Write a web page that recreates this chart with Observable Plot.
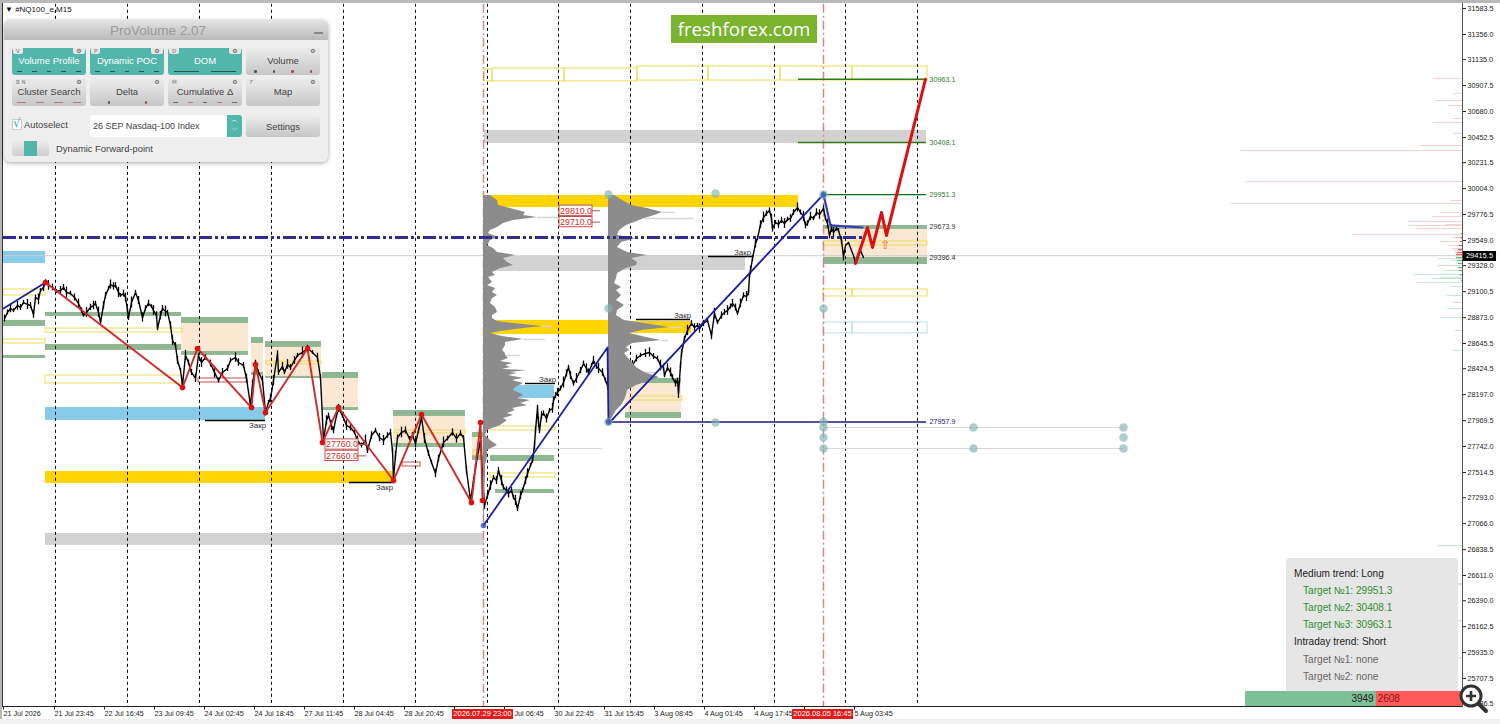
<!DOCTYPE html>
<html><head><meta charset="utf-8">
<script src="https://cdn.jsdelivr.net/npm/d3@7"></script>
<script src="https://cdn.jsdelivr.net/npm/@observablehq/plot@0.6"></script>
<style>
html,body{margin:0;padding:0;background:#fff;overflow:hidden}
#wrap{position:relative;width:1500px;height:724px;font-family:"Liberation Sans",Arial,sans-serif}
#wrap svg{display:block;max-width:none}
.o{position:absolute;box-sizing:border-box;white-space:nowrap}
</style></head><body><div id="wrap"></div>
<script>
// ---------- axes ----------
const priceTicks=[31583.5,31356,31135,30907.5,30680,30452.5,30231.5,30004,29776.5,29549,29328,29100.5,28873,28645.5,28424.5,28197,27969.5,27742,27514.5,27293,27066,26838.5,26611,26390,26162.5,25935,25707.5,25486.5];
const tickSlots=[3,54,104,154,204,254,304,354,404,454,504,554,604,654,704,754,804,854];
const labelSlots=[3,54,104,154,204,254,304,354,404,514,554,604,654,704,754,854];
const timeLabels=["21 Jul 2026","21 Jul 23:45","22 Jul 16:45","23 Jul 09:45","24 Jul 02:45","24 Jul 18:45","27 Jul 11:45","28 Jul 04:45","28 Jul 20:45","Jul 06:45","30 Jul 22:45","31 Jul 15:45","3 Aug 08:45","4 Aug 01:45","4 Aug 17:45","5 Aug 03:45"];
const sessionSlots=[55,127,199,271,343,415,487,558,630,702,774,845,917];
const signalSlots=[483,823];
// ---------- price series: time slot / close / half range ----------
const closeSlot=[4,7,10,13,17,20,23,27,30,33,35,38,40,43,45,48,52,56,60,63,66,70,74,78,81,83,86,90,93,95,98,100,103,105,108,110,113,115,118,120,123,125,127,128,131,135,138,142,145,148,151,153,156,157,160,162,165,167,170,172,175,177,180,182,185,188,191,195,198,201,205,210,214,218,222,227,230,235,238,243,246,250,252,255,258,262,265,268,270,273,277,278,282,284,287,290,294,297,302,307,312,317,320,323,326,328,331,333,336,338,342,346,350,354,357,361,365,367,371,375,379,383,387,390,392,393,395,397,401,405,409,412,415,418,421,424,428,431,435,438,443,447,452,456,460,463,466,470,473,475,478,480,484,487,490,493,496,498,501,503,506,508,511,513,515,517,520,522,525,527,530,532,534,535,537,538,539,541,543,546,549,552,553,555,557,560,563,566,568,570,573,576,580,583,586,588,591,593,596,598,602,605,607,625,628,632,636,640,645,649,653,657,660,663,664,667,670,672,675,677,678,680,681,684,687,691,694,697,699,703,707,711,714,717,721,724,727,730,732,735,737,740,743,746,748,749,750,752,755,757,760,763,766,769,771,772,775,778,781,784,787,790,793,797,800,803,805,807,810,813,816,819,823,825,827,829,831,833,836,838,841,843,845,848,851,853,855,858,860,863];
const closePrice=[28865,28918,28953,28935,28979,28962,29005,28988,28979,28900,29049,29032,29111,29137,29181,29155,29137,29102,29111,29137,29093,29084,29049,28997,28935,28891,28918,28962,28979,28997,28918,28830,28979,29067,29128,29163,29146,29155,29093,29067,29084,29049,28935,28874,29005,29093,29023,28874,28953,28997,28970,28935,28891,28777,28891,28953,28927,28918,28804,28672,28628,28497,28409,28278,28541,28479,28392,28339,28541,28479,28523,28470,28392,28321,28392,28427,28497,28523,28479,28453,28339,28102,28278,28470,28392,28321,28041,28128,28163,28321,28558,28392,28444,28392,28462,28435,28497,28541,28567,28602,28567,28523,28348,27795,27971,28014,27927,27883,28014,28076,28014,27927,27909,27865,27795,27751,27795,27707,27839,27883,27821,27795,27839,27865,27707,27462,27664,27821,27865,27883,27812,27839,27769,27883,27997,27812,27681,27602,27506,27637,27778,27812,27865,27812,27857,27821,27532,27269,27444,27558,27707,27795,27225,27313,27400,27471,27444,27532,27444,27383,27357,27330,27357,27295,27269,27199,27313,27357,27444,27506,27576,27620,27751,27883,28084,27953,27883,28014,28032,27988,28058,28076,28146,28190,28216,28251,28304,28383,28435,28365,28295,28339,28409,28470,28427,28392,28453,28497,28444,28427,28392,28321,28278,28427,28479,28453,28514,28541,28558,28567,28532,28514,28453,28435,28365,28435,28392,28348,28295,28321,28207,28453,28558,28690,28760,28821,28786,28804,28777,28821,28848,28716,28909,28830,28891,28918,28935,28970,28997,28962,28909,28997,29067,29058,29093,29242,29286,29391,29523,29567,29690,29751,29786,29812,29742,29654,29707,29690,29725,29698,29733,29742,29795,29838,29795,29760,29681,29698,29760,29742,29795,29777,29830,29742,29698,29593,29654,29619,29654,29637,29549,29409,29505,29532,29461,29418,29347,29418,29461,29400];
const closeRange=[30,22,38,18,41,27,19,44,25,33,21,47,16,36,24,42,29,17,35,26,48,20,31,39,23,15,43,28,37,19,46,22,34,27,18,40,32,24,45,17,30,38,21,26,49,19,35,41,23,28,16,44,33,20,37,25,47,18,31,42,26,34,19,39,45,22,28,36,17,43,24,30,48,21,35,27,19,41,33,25,38,16,46,29,22,40,31,18,37,44,23,27,35,20,42,26,34,19,47,28,16,38,24,32,41,21,45,29,18,36,25,43,30,17,39,22,48,26,33,19,37,44,24,28,20,41,35,23,46,31,18,27,39,22,34,43,25,19,37,29,47,21,32,40,24,17,36,45,26,30,20,38,33,23,42,18,35,27,46,22,31,39,25,19,44,28,36,21,33,41,17,24,37,30,20,45,27,34,23,39,18,42,29,26,35,21,48,32,19,37,24,43,28,22,40,31,17,36,25,46,33,20,38,27,23,44,30,19,35,41,26,22,47,29,18,34,39,24,31,21,43,27,36,20,45,25,33,18,40,28,23,37,46,19,32,26,42,22,35,30,17,38,24,44,29,21,36,27,41,19,33,47,25,23,39,31,18,35,28,43,20,34,26,40,22,45,30,24,37,19,32,42,27,21,38,29,35,46,23,18,33,41];
// ---------- zigzags ----------
const redZigSlot=[45,182,197,251,255,265,307,322,338,393,421,471,480,482];
const redZigPrice=[29181,28260,28602,28084,28462,28041,28602,27778,28084,27444,28023,27251,27953,27269];
const blueZigA=[[3,28953],[45,29181]];
const blueZigB=[[483,27050],[607,28611],[608,27944],[823,29953]];
const bluePocLine=[[823,29953],[830,29681],[862,29663]];
const forecastSlot=[855,867,872,881,886,925];
const forecastPrice=[29347,29663,29488,29795,29593,30963];
// ---------- zones: slot start, slot end, high, low ----------
const greenZones=[[3,45,28848,28795],[3,45,28541,28514],[45,181,28918,28883],[45,181,28637,28585],[181,248,28874,28821],[181,248,28576,28541],[251,263,28698,28646],[251,263,28392,28365],[265,321,28663,28611],[265,321,28357,28339],[322,358,28392,28339],[322,358,28084,28058],[393,465,28058,28006],[393,465,27769,27734],[472,483,27865,27821],[472,483,27664,27620],[490,554,27664,27611],[495,554,27365,27330],[620,681,28339,28295],[625,681,28041,27988],[823,927,29681,29646],[823,927,29400,29339]];
const creamZones=[[181,248,28821,28576],[251,263,28646,28392],[265,321,28611,28357],[322,358,28339,28084],[393,465,28006,27769],[472,483,27821,27664],[625,681,28295,28041],[823,927,29646,29400]];
const goldZones=[[45,393,27523,27418],[484,798,29944,29838],[484,608,28848,28725],[608,691,28839,28734]];
const skyZones=[[3,45,29453,29347],[45,265,28084,27971],[512,554,28278,28163]];
const greyZones=[[45,484,26980,26875],[484,926,30514,30400],[484,608,29409,29277],[608,745,29418,29286]];
const yellowBoxes=[[3,45,29119,29067],[3,45,28681,28646],[45,182,28777,28742],[45,182,28365,28295],[266,321,28488,28462],[395,465,27883,27857],[473,483,27707,27664],[490,555,27918,27883],[490,555,27506,27471],[630,682,28181,28146],[823,927,29540,29505],[823,852,29119,29058],[852,927,29119,29058],[484,492,31049,30944],[492,564,31058,30944],[564,637,31058,30944],[637,708,31075,30952],[708,780,31075,30952],[780,852,31075,30952],[852,927,31075,30952]];
const redBoxes=[[198,247,28339,28304],[402,420,27602,27567]];
const paleBlueBoxes=[[823,852,28830,28734],[852,927,28830,28734]];
// ---------- volume profiles: price level / profile right end ----------
const profileALevel=[29944,29900,29856,29830,29795,29768,29751,29725,29698,29663,29637,29611,29575,29549,29505,29479,29444,29418,29391,29356,29330,29304,29269,29242,29225,29181,29155,29128,29093,29067,29040,28997,28962,28918,28891,28865,28839,28821,28795,28777,28751,28734,28707,28681,28655,28628,28584,28558,28541,28514,28488,28470,28452,28435,28418,28409,28392,28383,28365,28339,28321,28295,28260,28234,28208,28190,28164,28146,28120,28102,28076,28058,28032,28014,27988,27971,27927,27883,27839,27795,27751,27707,27646,27576,27471,27357,27181,27050];
const profileAEnd=[490,497,498,510,525,523,537,513,503,497,490,488,498,490,487,493,497,515,503,507,513,500,492,495,488,492,487,495,492,497,492,490,495,497,492,492,497,513,542,523,500,490,502,523,505,505,502,505,505,508,500,513,505,510,502,527,510,517,508,523,512,523,515,513,520,523,517,530,520,527,512,515,507,513,503,507,500,487,485,490,497,487,487,485,485,484,484,483];
const profileBLevel=[29944,29900,29856,29830,29795,29768,29742,29707,29681,29637,29593,29567,29532,29488,29444,29418,29391,29356,29330,29304,29260,29216,29172,29137,29111,29067,29023,28979,28935,28891,28848,28821,28786,28760,28734,28698,28672,28646,28611,28584,28558,28523,28479,28435,28392,28348,28321,28278,28234,28190,28146,28102,28058,27997,27944];
const profileBEnd=[614,622,631,647,662,654,644,634,626,619,617,636,621,617,627,647,631,637,636,626,617,616,614,621,616,621,616,624,617,616,624,644,669,641,629,646,661,632,626,629,624,627,632,636,644,659,651,636,627,626,624,621,616,612,609];
const profileTails=[[537,562,29751],[542,552,28795],[523,545,28681],[505,520,28541],[662,675,29795],[644,694,29742],[669,682,28786],[661,668,28672],[636,655,28392]];
// ---------- level lines ----------
const targetLevels=[30963.1,30408.1];
const target1=29951.3;
const bottomLevel=27957.9;
const pocLevel=29575;
const lastPrice=29415.5;
const levelLabelValues=[30963.1,30408.1,29951.3,29673.9,29396.4,27957.9];
const levelLabelTone=["a","a","a","b","b","c"];
// ---------- anchors ----------
const anchorSlot=[608,715,823,608,823,608,715,823,823,823,823,973,973,1123,1123,1123];
const anchorPrice=[29951,29960,29951,28953,28953,27958,27953,27958,27909,27821,27725,27909,27725,27909,27821,27725];
const faintLines=[[823,1123,27909],[823,1123,27725],[490,602,27725]];
// ---------- closing marks ----------
const closeLines=[[205,265,27971],[349,393,27427],[525,555,28295],[708,752,29409],[636,690,28856]];
const closeNotes=[[257,27927,"Закр"],[384,27383,"Закр"],[547,28330,"Закр"],[742,29444,"Закр"],[682,28891,"Закр"]];
// ---------- alert tags ----------
const tagValues=[27760,27660,29810,29710];
const tagSlots=[325,325,559,559];
// ---------- depth of market: level / reach ----------
const askLevel=[30970,30840,30777,30733,30619,30584,30488,30382,30338,30066,29900,29873,29795,29760,29716,29689,29681,29654,29602,29575,29540,29505,29479,29461,29444,29426];
const askReach=[1433,1453,1435,1448,1452,1433,1452,1420,1240,1245,1450,1230,1440,1432,1408,1445,1408,1417,1352,1452,1440,1448,1452,1454,1456,1458];
const bidLevel=[29391,29374,29330,29286,29251,29225,29216,29181,29146,29067,29005,28953,28874,28760,28584,26874,26540,26530,26215,25890];
const bidReach=[1437,1450,1437,1445,1413,1440,1432,1417,1450,1447,1452,1447,1440,1455,1452,1437,1453,1450,1445,1452];
const askCore=[[29610,1461],[29575,1460],[29540,1460],[29505,1459],[29470,1458],[29444,1457],[29426,1456]];
const bidCore=[[29400,1456],[29374,1457],[29347,1458],[29312,1458],[29286,1459],[29250,1460],[29200,1461]];

// ---------- panels ----------
const trendRows=[["Medium trend: Long","h"],["Target №1: 29951.3","g"],["Target №2: 30408.1","g"],["Target №3: 30963.1","g"],["Intraday trend: Short","h"],["Target №1: none","n"],["Target №2: none","n"]];
const buyVolume=3949, sellVolume=2608;
const buttonRows=[
 [["Volume Profile","V",1],["Dynamic POC","P",1],["DOM","D",1],["Volume","",0]],
 [["Cluster Search","B N",0],["Delta","",0],["Cumulative Δ","M",0],["Map","F",0]]];

const pairs=(a,b)=>a.map((v,i)=>[v,b[i]]);
const zoneRect=(rows,opts)=>Plot.rect(rows,{x1:d=>d[0],x2:d=>d[1],y1:d=>d[3],y2:d=>d[2],...opts});
const font='"Liberation Sans",Arial,sans-serif';
const profileMark=(lv,en,base)=>Plot.areaX(lv.map((l,i)=>({l,e:en[i]})),{y:"l",x1:()=>base,x2:"e",fill:"#8c8c8c",curve:"linear"});

const chart=Plot.plot({
  width:1500,height:724,marginTop:0,marginLeft:0,marginRight:38,marginBottom:17.5,
  style:{background:"#fff",fontFamily:font,overflow:"visible"},
  x:{type:"linear",domain:[0,1500],range:[0,1500]},
  y:{type:"linear",domain:[31583.5,25427.3],range:[8,710]},
  marks:[
    // zones
    zoneRect(creamZones,{fill:"#fbe8d2"}),
    zoneRect(greyZones,{fill:"#d2d2d2"}),
    zoneRect(goldZones,{fill:"#ffd400"}),
    zoneRect(skyZones,{fill:"#86cbe8"}),
    zoneRect(greenZones,{fill:"#8fb892"}),
    zoneRect(yellowBoxes,{fill:"none",stroke:"#ecdc55",strokeWidth:1}),
    zoneRect(paleBlueBoxes,{fill:"none",stroke:"#bcdde8",strokeWidth:1}),
    zoneRect(redBoxes,{fill:"none",stroke:"#c0504d",strokeWidth:1}),
    // session and signal rules
    Plot.ruleX(sessionSlots,{y1:31620,y2:25458,stroke:"#000",strokeWidth:1,strokeDasharray:"3 3"}),
    Plot.ruleX(signalSlots,{y1:31620,y2:25458,stroke:"#cc8a8a",strokeWidth:1.5,strokeDasharray:"9 3 2 3"}),
    // faint and last price
    Plot.ruleY([lastPrice],{x1:3,x2:1462,stroke:"#cfcfcf",strokeWidth:1}),
    Plot.ruleY(faintLines,{x1:d=>d[0],x2:d=>d[1],y:d=>d[2],stroke:"#d8d8d8",strokeWidth:1}),
    // depth
    Plot.ruleY(pairs(askLevel,askReach),{y:d=>d[0],x1:d=>d[1],x2:1462,stroke:"#f5d2d2",strokeWidth:1}),
    Plot.ruleY(pairs(bidLevel,bidReach),{y:d=>d[0],x1:d=>d[1],x2:1462,stroke:"#c8e6d4",strokeWidth:1}),
    Plot.ruleY(askCore,{y:d=>d[0],x1:d=>d[1],x2:1462,stroke:"#e65a5a",strokeWidth:1.2}),
    Plot.ruleY(bidCore,{y:d=>d[0],x1:d=>d[1],x2:1462,stroke:"#5fb785",strokeWidth:1.2}),
    // price
    Plot.line(pairs(closeSlot,closePrice),{x:d=>d[0],y:d=>d[1],stroke:"#000",strokeWidth:1.4,curve:"linear"}),
    Plot.ruleX(closeSlot.map((s,i)=>[s,closePrice[i],closeRange[i]]),{x:d=>d[0],y1:d=>d[1]-d[2],y2:d=>d[1]+d[2],stroke:"#000",strokeWidth:1.3}),
    // profiles
    Plot.ruleY(profileTails,{x1:d=>d[0],x2:d=>d[1],y:d=>d[2],stroke:"#d6d6d6",strokeWidth:1.5}),
    profileMark(profileALevel,profileAEnd,483),
    profileMark(profileBLevel,profileBEnd,608),
    // levels
    Plot.ruleY([pocLevel],{x1:3,x2:862,stroke:"#2d2d8f",strokeWidth:3,strokeDasharray:"13 3 3 3 3 3"}),
    Plot.ruleY(targetLevels,{x1:798,x2:926,stroke:"#2f7a12",strokeWidth:1.4}),
    Plot.ruleY([target1],{x1:823,x2:926,stroke:"#0e6e1a",strokeWidth:1.4}),
    Plot.ruleY([bottomLevel],{x1:608,x2:926,stroke:"#1a1a7a",strokeWidth:1.6}),
    // closing marks
    Plot.ruleY(closeLines,{x1:d=>d[0],x2:d=>d[1],y:d=>d[2],stroke:"#000",strokeWidth:1.4}),
    Plot.text(closeNotes,{x:d=>d[0],y:d=>d[1],text:d=>d[2],fontSize:8,fill:"#333"}),
    // zigzags
    Plot.line(blueZigA,{x:d=>d[0],y:d=>d[1],stroke:"#1c1ca8",strokeWidth:1.8}),
    Plot.line(blueZigB,{x:d=>d[0],y:d=>d[1],stroke:"#1c1ca8",strokeWidth:1.8}),
    Plot.line(bluePocLine,{x:d=>d[0],y:d=>d[1],stroke:"#3a3ab8",strokeWidth:2.2}),
    Plot.line(pairs(redZigSlot,redZigPrice),{x:d=>d[0],y:d=>d[1],stroke:"#cf2a2a",strokeWidth:1.9}),
    Plot.dot(pairs(redZigSlot,redZigPrice),{x:d=>d[0],y:d=>d[1],r:2.8,fill:"#e01010"}),
    Plot.line(pairs(forecastSlot,forecastPrice),{x:d=>d[0],y:d=>d[1],stroke:"#dc0f12",strokeWidth:3}),
    Plot.text([[885,29505]],{x:d=>d[0],y:d=>d[1],text:()=>"⇧",fontSize:12,fontFamily:"DejaVu Sans",fill:"#e8603a"}),
    // anchors
    Plot.dot(pairs(anchorSlot,anchorPrice),{x:d=>d[0],y:d=>d[1],r:4.3,fill:"#7fb6b4",fillOpacity:.65}),
    Plot.dot([[483,27050],[608,27958],[823,29951]],{x:d=>d[0],y:d=>d[1],r:2.8,fill:"#3a5fc0",fillOpacity:.85}),
    // tags
    Plot.rect(pairs(tagSlots,tagValues),{x1:d=>d[0],x2:d=>d[0]+33,y1:d=>d[1]-45,y2:d=>d[1]+45,fill:"#fff",stroke:"#c0504d"}),
    Plot.ruleY(pairs(tagSlots,tagValues),{x1:d=>d[0]+33,x2:d=>d[0]+41,y:d=>d[1],stroke:"#c0504d"}),
    Plot.text(pairs(tagSlots,tagValues),{x:d=>d[0]+16.5,y:d=>d[1],text:d=>d[1].toFixed(1),fontSize:8.8,fill:"#d0302a"}),
    // level labels
    Plot.text(levelLabelValues,{x:929,y:d=>d,text:d=>d.toFixed(1),textAnchor:"start",fontSize:7.2,fill:(d,i)=>({a:"#2f7a2f",b:"#333",c:"#24247a"})[levelLabelTone[i]]}),
    // axes
    Plot.axisY({anchor:"right",ticks:priceTicks,tickFormat:d=>d.toFixed(1),tickSize:3,tickPadding:2,fontSize:7.2,label:null,color:"#222"}),
    Plot.axisX({anchor:"bottom",ticks:tickSlots,tickFormat:()=>"",tickSize:3,label:null,color:"#222"}),
    Plot.text(pairs(labelSlots,timeLabels),{x:d=>d[0],text:d=>d[1],frameAnchor:"bottom",dy:7,lineAnchor:"middle",textAnchor:"start",fontSize:7.2,fill:"#222"})
  ]
});
const wrap=document.getElementById("wrap");
wrap.appendChild(chart);

function box(css,text,parent){const d=document.createElement("div");d.className="o";d.style.cssText=css;if(text!=null)d.textContent=text;(parent||wrap).appendChild(d);return d;}
// chart frame
box("left:0;top:0;width:1500px;height:3px;background:#b8b8b8");
box("left:0;top:0;width:2px;height:724px;background:#b8b8b8");
box("left:2px;top:3px;width:1px;height:704px;background:#333");
box("left:3px;top:706px;width:1459px;height:1px;background:#222");
box("left:1462px;top:3px;width:1px;height:704px;background:#555");
box("left:0;top:719px;width:1500px;height:5px;background:#f0f0f0");
box("left:5px;top:5px;font:8px 'Liberation Sans';color:#111","▼ #NQ100_e,M15");
// time tags
[[452,"2026.07.29 23:00"],[792,"2026.08.05 16:45"]].forEach(([x,t])=>{
  box(`left:${x}px;top:709px;width:61px;height:9.5px;background:#e51b1b;color:#fff;font:7.5px/9.5px 'Liberation Sans';text-align:center`,t);
});
// last price tag
box("left:1463px;top:251px;width:33px;height:10px;background:#000;color:#fff;font:7.5px/10px 'Liberation Sans';text-align:center",lastPrice.toFixed(1));
// logo
box("left:671px;top:15px;width:146px;height:28px;background:#7ab32e;color:#fff;font:18.7px/28px 'Open Sans';text-align:center","freshforex.com");
// ProVolume panel
const p=box("left:4px;top:20px;width:324px;height:142px;background:#eeeeee;border-radius:6px;box-shadow:0 1px 4px rgba(0,0,0,.35)");
box("left:0;top:0;width:324px;height:20px;background:linear-gradient(#e4e4e4,#b9b9b9);border-radius:6px 6px 0 0;color:#9a9a9a;font:13.5px/21px 'Liberation Sans';text-align:center;padding-right:16px","ProVolume 2.07",p);
box("left:310px;top:12px;width:9px;height:1.5px;background:#888",null,p);
const gridX=[8,86,164,242];
const rowY=[28,59];
const marks=[["-----",  "-----",  "==",   "dddd"],["rrrr","ee","mmmmm",""]];
buttonRows.forEach((row,r)=>row.forEach(([label,key,on],c)=>{
  const b=box(`left:${gridX[c]}px;top:${rowY[r]}px;width:74px;height:27px;border-radius:3px;background:${on?"#52b6ab":"linear-gradient(#ececec,#c6c6c6)"};color:${on?"#fff":"#444"};font:9.5px/26px 'Liberation Sans';text-align:center`,label,p);
  if(key)box(`left:1px;top:0;height:6px;padding:0 3px;background:#e6e6e6;border-radius:0 0 2px 2px;color:#777;font:5.5px/6px 'DejaVu Sans'`,key,b);
  box(`right:1px;top:0;width:12px;height:6px;background:#e6e6e6;border-radius:0 0 2px 2px;color:#555;font:6px/6px 'DejaVu Sans'`,"⚙",b);
  const m=marks[r][c];
  if(m){const seg=[...m];seg.forEach((s,i)=>{
    const w=74/seg.length,l=i*w;
    if(s==="d"||s==="e"){box(`left:${l+w/2-1}px;top:22px;width:2.5px;height:2.5px;border-radius:50%;background:${i<(s==="d"?2:1)?"#555":"#b04848"}`,null,b);}
    else{const col=s==="-"?"#24584f":s==="="?"#24584f":s==="r"?"#b87c7c":(i%2?"#b87c7c":"#6f6f6f");
      box(`left:${l+(s==="="?6:5)}px;top:23px;width:${w-(s==="="?12:10)}px;height:1px;background:${col}`,null,b);}
  });}
}));
box("left:8px;top:99px;width:10px;height:11px;background:#fff;border:1px solid #ccc",null,p);
box("left:9px;top:96px;color:#3aa89c;font:12px 'DejaVu Sans'","√",p);
box("left:20px;top:99px;color:#444;font:9.4px 'Liberation Sans'","Autoselect",p);
box("left:86px;top:95px;width:137px;height:22px;background:#fff;border-radius:3px;color:#444;font:9px/23px 'Liberation Sans';padding-left:3px","26 SEP Nasdaq-100 Index",p);
box("left:223px;top:95px;width:15px;height:22px;background:#52b6ab;border-radius:0 3px 3px 0;color:#fff;font:7px/10px 'DejaVu Sans';text-align:center;white-space:pre","︿\n﹀",p);
box("left:242px;top:95px;width:74px;height:22px;border-radius:3px;background:linear-gradient(#ececec,#c6c6c6);color:#444;font:9.4px/23px 'Liberation Sans';text-align:center","Settings",p);
box("left:8px;top:121px;width:37px;height:15px;border-radius:3px;background:linear-gradient(#ececec,#cdcdcd)",null,p);
box("left:20px;top:121px;width:13px;height:15px;background:#52b6ab",null,p);
box("left:52px;top:123px;color:#444;font:9.4px 'Liberation Sans'","Dynamic Forward-point",p);
// trend panel
box("left:1286px;top:558px;width:172px;height:133px;background:#e6e6e6;border-radius:4px 4px 0 0");
trendRows.forEach(([t,k],i)=>{
  box(`left:${k==="h"?1294:1303}px;top:${567+i*17.1}px;font:10.1px/13px 'Liberation Sans';color:${k==="h"?"#222":k==="g"?"#2f8f2f":"#666"}`,t);
});
// buy / sell bar
const total=buyVolume+sellVolume;const barW=217;const buyW=barW*buyVolume/total;
box(`left:1245px;top:691px;width:${buyW}px;height:15px;background:#7dbf97;color:#222;font:10px/15px 'Liberation Sans';text-align:right;padding-right:2px`,buyVolume);
box(`left:${1245+buyW}px;top:691px;width:${barW-buyW}px;height:15px;background:#ff5a5a;color:#8a1010;font:10px/15px 'Liberation Sans';padding-left:2px`,sellVolume);
// magnifier
const ns="http://www.w3.org/2000/svg";
const mg=document.createElementNS(ns,"svg");mg.setAttribute("width",32);mg.setAttribute("height",32);mg.setAttribute("class","o");mg.style.cssText="position:absolute;left:1457px;top:682px";
mg.innerHTML='<line x1="21" y1="21" x2="29" y2="29" stroke="#333" stroke-width="4" stroke-linecap="round"/><circle cx="14" cy="14" r="10" fill="#fff" stroke="#333" stroke-width="3"/><path d="M9 14H19M14 9V19" stroke="#333" stroke-width="2.6"/>';
wrap.appendChild(mg);
</script></body></html>
